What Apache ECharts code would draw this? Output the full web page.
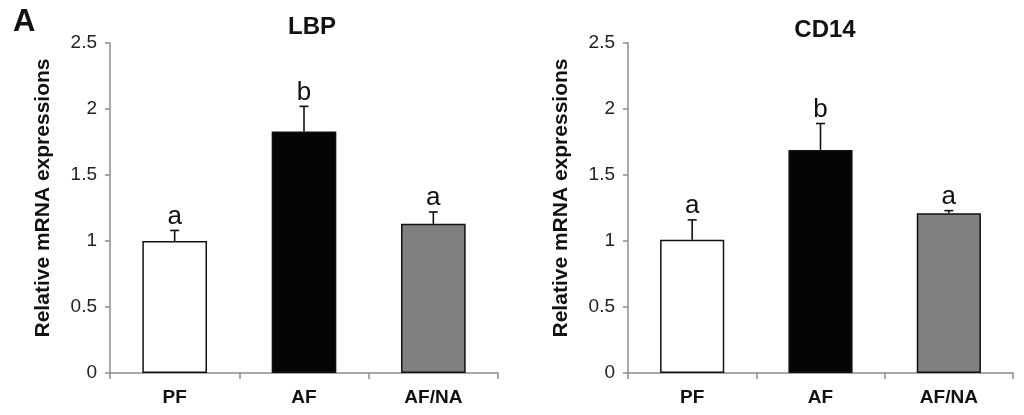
<!DOCTYPE html>
<html>
<head>
<meta charset="utf-8">
<script src="https://cdn.jsdelivr.net/npm/echarts@6/dist/echarts.min.js"></script>
<style>html,body{margin:0;padding:0;background:#fff}#c{width:1024px;height:415px}</style>
</head>
<body>
<div id="c"></div>
<script>
var categories = ['PF', 'AF', 'AF/NA'];
var barColors = ['#ffffff', '#050505', '#808080'];
var lbpMean = [1.00, 1.83, 1.13];
var lbpErrTop = [1.08, 2.02, 1.22];
var lbpLetters = ['a', 'b', 'a'];
var cd14Mean = [1.01, 1.69, 1.21];
var cd14ErrTop = [1.16, 1.89, 1.23];
var cd14Letters = ['a', 'b', 'a'];
var yTicks = { min: 0, max: 2.5, interval: 0.5 };
var titles = ['LBP', 'CD14'];
var yName = 'Relative mRNA expressions';
var panelLabel = 'A';

var FONT = 'Liberation Sans, Arial, sans-serif';
var axisGray = '#8c8c8c';

function makeErr(letters) {
  return function (params, api) {
    var x = api.value(0), y = api.value(1), e = api.value(2);
    var p0 = api.coord([x, y]);
    var p1 = api.coord([x, e]);
    var w = 9;
    return {
      type: 'group',
      children: [
        { type: 'line', shape: { x1: p0[0], y1: p0[1], x2: p1[0], y2: p1[1] }, style: { stroke: '#111', lineWidth: 1.6 } },
        { type: 'line', shape: { x1: p1[0] - w / 2, y1: p1[1], x2: p1[0] + w / 2, y2: p1[1] }, style: { stroke: '#111', lineWidth: 1.6 } },
        { type: 'text', x: p1[0], y: p1[1] - 1, style: { text: letters[params.dataIndex], fontSize: 26, fontFamily: FONT, fill: '#111', align: 'center', verticalAlign: 'bottom' } }
      ]
    };
  };
}

function barData(vals) {
  return vals.map(function (v, i) {
    return { value: v, itemStyle: { color: barColors[i] } };
  });
}
function errData(mean, top) {
  return mean.map(function (v, i) { return [i, v, top[i]]; });
}

function xAx(gi) {
  return {
    type: 'category', gridIndex: gi, data: categories,
    axisLine: { lineStyle: { color: axisGray, width: 1.5 } },
    axisTick: { show: true, length: 6, lineStyle: { color: axisGray, width: 1.5 } },
    axisLabel: { fontSize: 19, fontWeight: 'bold', fontFamily: FONT, color: '#111', margin: 15 }
  };
}
function yAx(gi) {
  return {
    type: 'value', gridIndex: gi, min: yTicks.min, max: yTicks.max, interval: yTicks.interval,
    name: yName, nameLocation: 'middle', nameGap: 56, nameRotate: 90,
    nameTextStyle: { fontSize: 21, fontWeight: 'bold', fontFamily: FONT, color: '#111', padding: [0, 0, 0, 20] },
    axisLine: { show: true, lineStyle: { color: axisGray, width: 1.5 } },
    axisTick: { show: true, length: 5, lineStyle: { color: axisGray, width: 1.5 } },
    axisLabel: { fontSize: 19, fontFamily: FONT, color: '#222', margin: 13 },
    splitLine: { show: false }
  };
}

var chart = echarts.init(document.getElementById('c'));
chart.setOption({
  animation: false,
  backgroundColor: '#fff',
  title: [
    { text: titles[0], left: 307, top: 10, textAlign: 'center', textStyle: { fontSize: 24, fontWeight: 'bold', fontFamily: FONT, color: '#111' } },
    { text: titles[1], left: 820, top: 13, textAlign: 'center', textStyle: { fontSize: 24, fontWeight: 'bold', fontFamily: FONT, color: '#111' } }
  ],
  graphic: [
    { type: 'text', left: 13, top: 7, style: { text: panelLabel, fontSize: 31, fontWeight: 'bold', fontFamily: FONT, fill: '#111' } }
  ],
  grid: [
    { left: 110, right: 526, top: 43, bottom: 42 },
    { left: 628, right: 11, top: 43, bottom: 42 }
  ],
  xAxis: [xAx(0), xAx(1)],
  yAxis: [yAx(0), yAx(1)],
  series: [
    { type: 'bar', xAxisIndex: 0, yAxisIndex: 0, barWidth: '50%', data: barData(lbpMean), itemStyle: { borderColor: '#111', borderWidth: 1.5 } },
    { type: 'custom', xAxisIndex: 0, yAxisIndex: 0, z: 5, renderItem: makeErr(lbpLetters), data: errData(lbpMean, lbpErrTop) },
    { type: 'bar', xAxisIndex: 1, yAxisIndex: 1, barWidth: '50%', data: barData(cd14Mean), itemStyle: { borderColor: '#111', borderWidth: 1.5 } },
    { type: 'custom', xAxisIndex: 1, yAxisIndex: 1, z: 5, renderItem: makeErr(cd14Letters), data: errData(cd14Mean, cd14ErrTop) }
  ]
});
</script>
</body>
</html>
